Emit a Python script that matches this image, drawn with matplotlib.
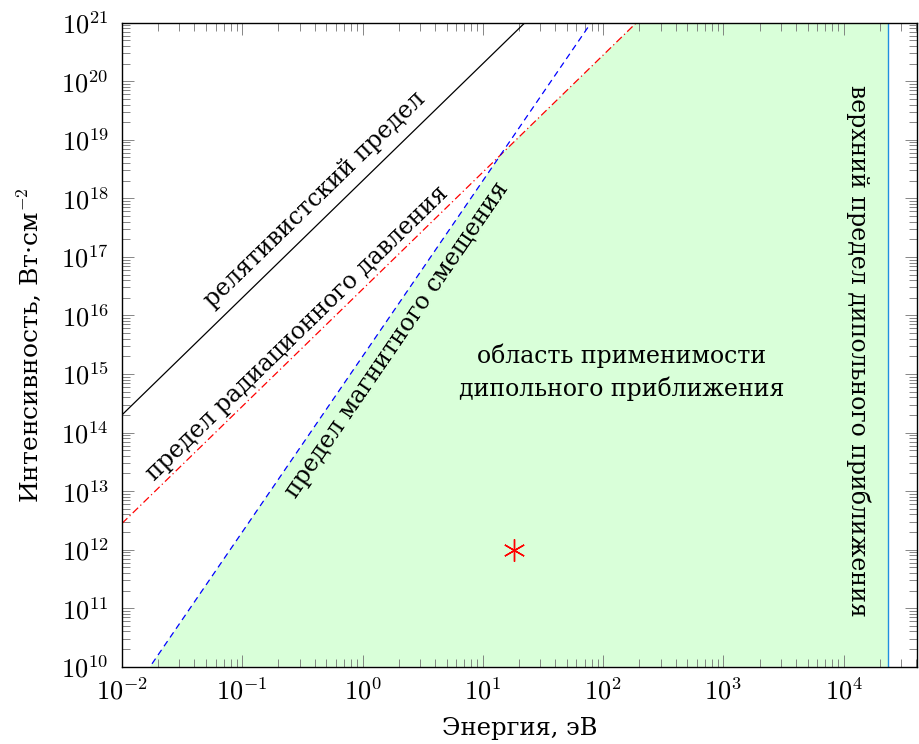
import numpy as np
import matplotlib
matplotlib.use("Agg")
import matplotlib.pyplot as plt
from matplotlib.ticker import FixedLocator, LogLocator, FuncFormatter, NullFormatter

plt.rcParams["font.family"] = ["DejaVu Serif"]
plt.rcParams["mathtext.fontset"] = "cm"

# limits of the validity of the dipole approximation
# I = coef * E^power, E in eV, I in W/cm^2
rel_coef, rel_pow = 2.0e18, 2          # relativistic limit
rad_coef, rad_pow = 2.8e16, 2          # radiation pressure limit
mag_coef, mag_pow = 2.0e15, 3          # magnetic displacement limit
E_upper = 2.35e4                       # upper dipole limit, eV
point_E, point_I = [18.0], [1.0e12]    # marked point

x_lim = (1e-2, 4.06e4)
y_lim = (1e10, 1e21)
x_decades = list(range(-2, 5))
y_decades = list(range(10, 22))

E = np.logspace(-2, np.log10(x_lim[1]), 800)
I_rel = rel_coef * E**rel_pow
I_rad = rad_coef * E**rad_pow
I_mag = mag_coef * E**mag_pow

fig = plt.figure(figsize=(9.2, 7.44), dpi=100)
ax = fig.add_axes([0.1326, 0.1039, 0.9967 - 0.1326, 0.9695 - 0.1039])
ax.set_xscale("log")
ax.set_yscale("log")

# green region
Ef = np.logspace(np.log10(y_lim[0] / mag_coef) / 3, np.log10(E_upper), 800)
upper = np.minimum(rad_coef * Ef**rad_pow, mag_coef * Ef**mag_pow)
ax.fill_between(Ef, y_lim[0], upper, color=(0.85, 1.0, 0.85), lw=0, zorder=0)

ax.plot(E, I_rel, color="black", lw=0.9, zorder=2)
ax.plot(E, I_rad, color="red", lw=0.9, dashes=(6, 2.5, 1, 2.5), zorder=2)
ax.plot(E, I_mag, color="blue", lw=0.9, dashes=(5, 3.5), zorder=2)
ax.axvline(E_upper, color="#1f8fdf", lw=1.0, zorder=2)
ax.plot(point_E, point_I, marker=(6, 2, 0), color="red", ms=16, mew=1.0, ls="none", zorder=3)

ax.set_xlim(*x_lim)
ax.set_ylim(*y_lim)

ax.xaxis.set_major_locator(FixedLocator([10.0**k for k in x_decades]))
ax.yaxis.set_major_locator(FixedLocator([10.0**k for k in y_decades]))
ax.xaxis.set_minor_locator(LogLocator(base=10, subs=np.arange(2, 10), numticks=20))
ax.yaxis.set_minor_locator(LogLocator(base=10, subs=np.arange(2, 10), numticks=20))
fmt = FuncFormatter(lambda v, p: r"$\mathrm{10^{%d}}$" % round(np.log10(v)))
ax.xaxis.set_major_formatter(fmt)
ax.yaxis.set_major_formatter(fmt)
ax.xaxis.set_minor_formatter(NullFormatter())
ax.yaxis.set_minor_formatter(NullFormatter())
ax.tick_params(which="both", direction="in", top=True, right=True, color="0.45", width=0.6, labelsize=19)
ax.tick_params(which="major", length=8.5)
ax.tick_params(axis="x", which="major", pad=8)
ax.tick_params(axis="y", which="major", pad=9.5)
ax.tick_params(which="minor", length=5.8)
for s in ax.spines.values():
    s.set_linewidth(1.0)
    s.set_zorder(4)

ax.set_xlabel("Энергия, эВ", fontsize=17.5, labelpad=9)
ax.set_ylabel("Интенсивность, Вт·см$^{-2}$", fontsize=18, labelpad=13)

# annotations
def ang(p):
    return np.degrees(np.arctan(p * 58.55 / 120.3))

ax.text(0.243, 0.725, "релятивистский предел", transform=ax.transAxes, fontsize=17,
        rotation=ang(2), ha="center", va="center", rotation_mode="anchor")
ax.text(0.220, 0.518, "предел радиационного давления", transform=ax.transAxes, fontsize=17,
        rotation=ang(2), ha="center", va="center", rotation_mode="anchor")
ax.text(0.346, 0.507, "предел магнитного смещения", transform=ax.transAxes, fontsize=17,
        rotation=ang(3), ha="center", va="center", rotation_mode="anchor")
ax.text(0.629, 0.457, "область применимости\nдипольного приближения", transform=ax.transAxes,
        fontsize=17, ha="center", va="center", linespacing=1.4)
ax.text(0.926, 0.49, "верхний предел дипольного приближения", transform=ax.transAxes, fontsize=17,
        rotation=-90, ha="center", va="center", rotation_mode="anchor")

fig.savefig("out.png", dpi=100)
